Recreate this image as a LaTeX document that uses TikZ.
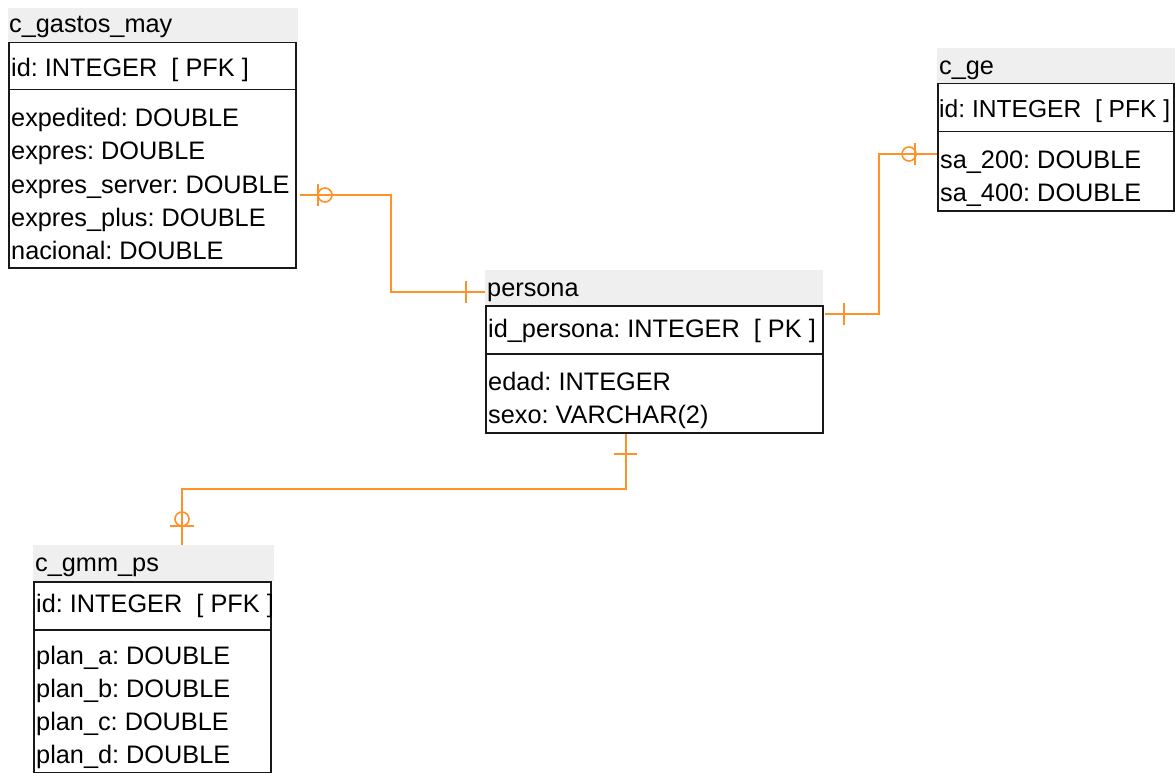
\documentclass[tikz,border=0pt]{standalone}
\usepackage{fontspec}
\setmainfont{Liberation Sans}
\frenchspacing
\definecolor{relc}{RGB}{255,145,40}
\definecolor{hdrc}{RGB}{239,239,239}
\definecolor{linec}{RGB}{25,25,25}
\begin{document}
\begin{tikzpicture}[x=1pt,y=-1pt,
  hdr/.style={fill=hdrc,draw=none,inner sep=0pt,anchor=north west},
  box/.style={draw=linec,line width=1.5pt,fill=white,inner sep=0pt,anchor=north west},
  txt/.style={inner sep=0pt,anchor=base west,text=black,font=\fontsize{25.3}{30}\selectfont},
  rel/.style={draw=relc,line width=1.8pt},
  relsym/.style={draw=relc,line width=1.6pt}]
\useasboundingbox (0,0) rectangle (1175,773);
% ---- c_gastos_may
\node[hdr,minimum width=290,minimum height=34] (gH) at (8,8) {};
\node[box,minimum width=287,minimum height=47] (gK) at (8,42) {};
\node[box,minimum width=287,minimum height=178] (gA) at (8,89) {};
\node[txt] (gHt) at (9,33) {c\_gastos\_may};
\node[txt] (gKt) at (11,77) {id: INTEGER\ \ [ PFK ]};
\node[txt] (gA1) at (11,127) {expedited: DOUBLE};
\node[txt] (gA2) at (11,160) {expres: DOUBLE};
\node[txt] (gA3) at (11,193) {expres\_server: DOUBLE};
\node[txt] (gA4) at (11,226) {expres\_plus: DOUBLE};
\node[txt] (gA5) at (11,259) {nacional: DOUBLE};
% ---- persona
\node[hdr,minimum width=338,minimum height=35] (pH) at (485,270) {};
\node[box,minimum width=337,minimum height=48] (pK) at (485,305) {};
\node[box,minimum width=337,minimum height=79] (pA) at (485,353) {};
\node[txt] (pHt) at (487,296) {persona};
\node[txt] (pKt) at (488,337) {id\_persona: INTEGER\ \ [ PK ]};
\node[txt] (pA1) at (488,390) {edad: INTEGER};
\node[txt] (pA2) at (488,423) {sexo: VARCHAR(2)};
% ---- c_ge
\node[hdr,minimum width=238,minimum height=35] (cH) at (937,48) {};
\node[box,minimum width=236,minimum height=48] (cK) at (937,83) {};
\node[box,minimum width=236,minimum height=79] (cA) at (937,131) {};
\node[txt] (cHt) at (939,75) {c\_ge};
\node[txt,font=\fontsize{24.6}{30}\selectfont] (cKt) at (939,118) {id: INTEGER\ \ [ PFK ]};
\node[txt] (cA1) at (940,168) {sa\_200: DOUBLE};
\node[txt] (cA2) at (940,201) {sa\_400: DOUBLE};
% ---- c_gmm_ps
\node[hdr,minimum width=241,minimum height=36] (mH) at (33,545) {};
\node[box,minimum width=237,minimum height=48] (mK) at (33,581) {};
\node[box,minimum width=237,minimum height=143] (mA) at (33,629) {};
\node[txt] (mHt) at (35,571) {c\_gmm\_ps};
\node[txt] (mKt) at (36,612) {id: INTEGER\ \ [ PFK ]};
\node[txt] (mA1) at (36,664) {plan\_a: DOUBLE};
\node[txt] (mA2) at (36,697) {plan\_b: DOUBLE};
\node[txt] (mA3) at (36,730) {plan\_c: DOUBLE};
\node[txt] (mA4) at (36,763) {plan\_d: DOUBLE};
% ---- relationships
\draw[rel] ([xshift=3pt]gA.east |- 0,195) -- (391,195) |- (pH.west |- 0,292);
\draw[relsym] (318,184) -- (318,206);
\draw[relsym] (325,195) circle (7);
\draw[relsym] (466,281) -- (466,303);

\draw[rel] ([xshift=1pt]pK.east |- 0,314) -- (879,314) |- (cA.west |- 0,154);
\draw[relsym] (844,303) -- (844,325);
\draw[relsym] (909,154) circle (7);
\draw[relsym] (915,143) -- (915,165);

\draw[rel] (pA.south -| 626,0) -- (626,489) -| (mH.north -| 182,0);
\draw[relsym] (614,454) -- (637,454);
\draw[relsym] (182,519) circle (7);
\draw[relsym] (170,526) -- (194,526);
\end{tikzpicture}
\end{document}
